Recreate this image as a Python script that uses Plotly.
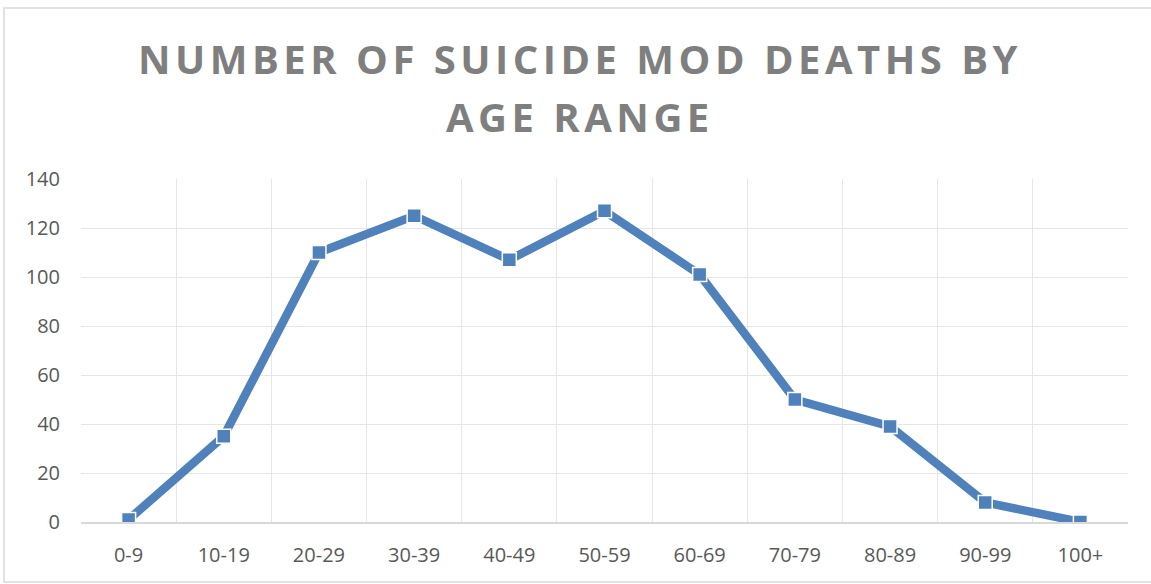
import plotly.graph_objects as go

age_ranges = ["0-9", "10-19", "20-29", "30-39", "40-49", "50-59", "60-69", "70-79", "80-89", "90-99", "100+"]
deaths = [1, 35, 110, 125, 107, 127, 101, 50, 39, 8, 0]
y_ticks = [0, 20, 40, 60, 80, 100, 120, 140]
title_lines = ["NUMBER OF SUICIDE MOD DEATHS BY", "AGE RANGE"]

W, H = 1151, 584
L, R, T, B = 81, 23, 179, 62

fig = go.Figure()
fig.add_trace(go.Scatter(
    x=age_ranges, y=deaths, mode="lines+markers",
    line=dict(color="#4f81bd", width=8.5),
    marker=dict(symbol="square", size=14, color="#4f81bd", line=dict(color="white", width=1.5)),
    hoverinfo="x+y", showlegend=False,
))

title_style = "letter-spacing:4.5px"
for txt, yc in zip(title_lines, [58, 117]):
    fig.add_annotation(
        xref="paper", yref="paper",
        x=(580 - L) / (W - L - R), y=(H - B - yc) / (H - T - B),
        xanchor="center", yanchor="middle", showarrow=False,
        text=f"<b><span style='{title_style}'>{txt}</span></b>",
        font=dict(family="Open Sans", size=40, color="#7f7f7f"),
    )

pw, ph = W - L - R, H - T - B
fig.add_shape(type="rect", xref="paper", yref="paper",
              x0=(4 - L) / pw, x1=(1152 - L) / pw,
              y0=(H - B - 582) / ph, y1=(H - B - 8) / ph,
              line=dict(color="#d9d9d9", width=1.5), layer="below")

fig.update_layout(
    width=W, height=H,
    margin=dict(l=L, r=R, t=T, b=B),
    paper_bgcolor="white", plot_bgcolor="white",
    font=dict(family="Open Sans", size=20, color="#595959"),
    xaxis=dict(
        type="category", range=[-0.5, 10.5], tickson="boundaries",
        showgrid=True, gridcolor="#e6e6e6", gridwidth=1,
        ticks="", showline=True, linecolor="#d9d9d9", linewidth=1.5,
        tickfont=dict(size=20, color="#595959"), ticklabelstandoff=14,
    ),
    yaxis=dict(
        range=[0, 140], tickvals=y_ticks, showgrid=True, gridcolor="#e6e6e6", gridwidth=1,
        zeroline=False, ticks="", showline=False,
        tickfont=dict(size=20, color="#595959"), ticklabelstandoff=20,
    ),
)

fig.write_html("out.html", config={"displayModeBar": False},
               post_script="document.body.style.margin='0';")
